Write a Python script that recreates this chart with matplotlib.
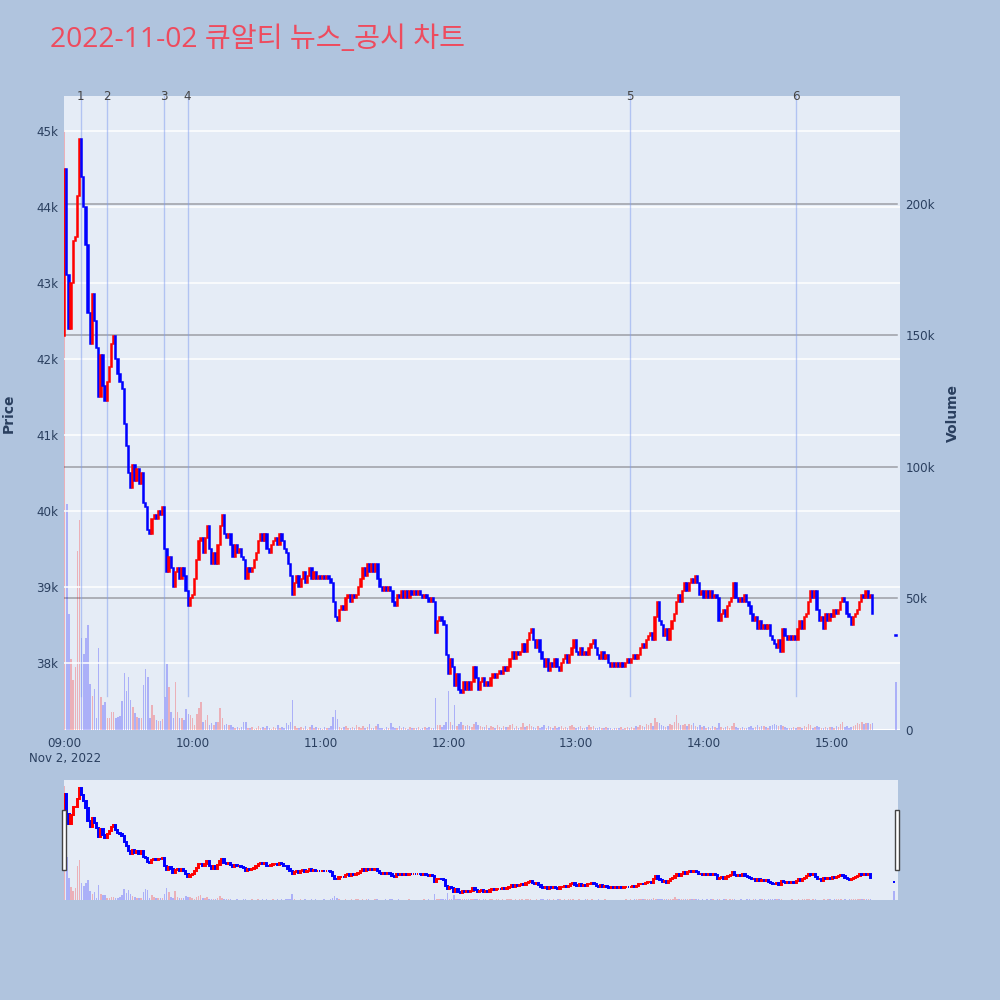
import pandas as pd
import numpy as np
import matplotlib
matplotlib.use('Agg')
import matplotlib.pyplot as plt
import matplotlib.transforms as mtransforms
import matplotlib.patches as mpatches

plt.rcParams['font.family'] = ['DejaVu Sans', 'Noto Sans CJK KR']

# 1분봉 종가 (09:00 ~ 15:19)
first_open = 42300
close = [
    44500, 43100, 42400, 43000, 43550, 43600, 44150, 44900, 44400, 44000,
    43500, 42600, 42200, 42850, 42500, 42150, 41500, 42050, 41650, 41450,
    41700, 41900, 42200, 42300, 42000, 41800, 41700, 41600, 41150, 40850,
    40500, 40300, 40600, 40400, 40550, 40350, 40500, 40100, 40050, 39750,
    39700, 39900, 39950, 39900, 40000, 39950, 40050, 39500, 39200, 39400,
    39250, 39000, 39200, 39250, 39100, 39250, 39150, 38950, 38750, 38850,
    38900, 39100, 39350, 39600, 39650, 39450, 39650, 39800, 39500, 39300,
    39450, 39300, 39550, 39800, 39950, 39700, 39650, 39700, 39550, 39400,
    39550, 39450, 39500, 39400, 39350, 39100, 39250, 39200, 39250, 39350,
    39450, 39600, 39700, 39600, 39700, 39500, 39450, 39550, 39600, 39650,
    39550, 39700, 39600, 39500, 39450, 39300, 39150, 38900, 39050, 39150,
    39000, 39100, 39200, 39050, 39150, 39250, 39100, 39200, 39100, 39150,
    39100, 39150, 39100, 39150, 39100, 39050, 38800, 38600, 38550, 38700,
    38750, 38700, 38850, 38900, 38800, 38900, 38850, 38900, 39000, 39100,
    39250, 39150, 39300, 39200, 39300, 39200, 39300, 39100, 39000, 38950,
    39000, 38950, 39000, 38950, 38800, 38750, 38900, 38850, 38950, 38850,
    38950, 38850, 38950, 38900, 38950, 38900, 38950, 38900, 38850, 38900,
    38850, 38800, 38850, 38800, 38400, 38550, 38600, 38550, 38500, 38100,
    37850, 38050, 37950, 37700, 37850, 37650, 37600, 37750, 37650, 37750,
    37650, 37750, 37950, 37800, 37650, 37750, 37800, 37700, 37750, 37700,
    37800, 37850, 37800, 37850, 37900, 37850, 37950, 37900, 37950, 38050,
    38150, 38050, 38150, 38100, 38150, 38250, 38150, 38300, 38400, 38450,
    38300, 38200, 38300, 38150, 38050, 37950, 38050, 37900, 38000, 37950,
    38050, 37950, 37900, 38000, 38050, 38100, 38000, 38100, 38200, 38300,
    38150, 38100, 38200, 38100, 38150, 38100, 38200, 38250, 38300, 38200,
    38100, 38050, 38150, 38050, 38100, 38000, 37950, 38000, 37950, 38000,
    37950, 38000, 37950, 38000, 38050, 38000, 38050, 38100, 38050, 38100,
    38200, 38250, 38200, 38300, 38350, 38400, 38300, 38600, 38800, 38550,
    38500, 38350, 38450, 38300, 38450, 38550, 38650, 38800, 38900, 38800,
    38950, 39050, 38950, 39050, 39100, 39050, 39150, 39050, 38900, 38950,
    38850, 38950, 38850, 38950, 38850, 38900, 38850, 38550, 38650, 38700,
    38600, 38750, 38800, 38850, 39050, 38850, 38800, 38850, 38800, 38900,
    38800, 38750, 38650, 38550, 38600, 38450, 38550, 38450, 38500, 38450,
    38500, 38350, 38300, 38250, 38200, 38300, 38150, 38450, 38350, 38300,
    38350, 38300, 38350, 38300, 38450, 38550, 38450, 38600, 38650, 38800,
    38950, 38850, 38950, 38700, 38550, 38600, 38450, 38650, 38550, 38650,
    38600, 38700, 38650, 38700, 38800, 38850, 38800, 38650, 38600, 38500,
    38600, 38650, 38700, 38800, 38900, 38850, 38950, 38850, 38900, 38650,
]
volume = [
    228000, 86000, 44000, 27000, 19000, 24000, 68000, 80000, 35000, 29000,
    35000, 40000, 17500, 13000, 15600, 4400, 31000, 12700, 9500, 10800,
    4400, 4500, 7000, 7000, 4400, 5000, 5500, 11000, 21600, 15000,
    20000, 11400, 8600, 6300, 5000, 4400, 4400, 17000, 23000, 20000,
    4400, 9500, 5700, 3800, 3400, 3400, 4000, 12700, 25000, 16500,
    6700, 4400, 18400, 6700, 4600, 4400, 3800, 8000, 6000, 5700,
    4400, 2000, 6000, 8300, 10500, 3200, 3800, 5700, 2000, 2500,
    2000, 3000, 3200, 8300, 4400, 2000, 2300, 1800, 2000, 1000,
    600, 1300, 600, 1000, 3000, 3000, 600, 900, 1200, 500,
    800, 1500, 700, 1100, 600, 1400, 900, 500, 1200, 800,
    2000, 700, 1300, 900, 2500, 1800, 3000, 11400, 1500, 900,
    600, 1200, 800, 1600, 500, 1000, 2000, 700, 1200, 600,
    900, 500, 1300, 800, 700, 1500, 5000, 7600, 4000, 1200,
    600, 1000, 1500, 800, 600, 1300, 900, 2000, 1100, 700,
    1600, 900, 1200, 2400, 800, 600, 1500, 2200, 900, 700,
    500, 1100, 800, 2500, 1300, 700, 900, 1400, 600, 1000,
    800, 500, 1200, 700, 900, 600, 1000, 500, 800, 1300,
    700, 1100, 600, 900, 12000, 2000, 1800, 1200, 2000, 3000,
    15000, 3000, 2000, 9500, 1500, 2200, 3000, 1800, 1400, 2000,
    1600, 1200, 2200, 3000, 1800, 1500, 1000, 1300, 2000, 900,
    1500, 1100, 800, 1900, 1300, 700, 1600, 1000, 1200, 1800,
    2200, 900, 1400, 700, 1200, 2500, 1000, 1600, 2200, 1400,
    1000, 800, 1700, 900, 1300, 1800, 700, 1500, 1100, 900,
    1400, 800, 1200, 1700, 600, 1100, 900, 1500, 2000, 1300,
    800, 1000, 1500, 700, 900, 1300, 1800, 1000, 1600, 900,
    700, 1200, 800, 600, 1100, 900, 700, 500, 800, 600,
    700, 1000, 500, 800, 1200, 600, 1100, 900, 1500, 1300,
    2000, 1600, 1200, 2200, 1800, 2500, 1500, 4400, 3000, 2500,
    1800, 1500, 1200, 1600, 2200, 2000, 3000, 5700, 2500, 1800,
    2000, 2300, 1600, 2200, 1800, 2500, 1500, 1200, 1900, 1000,
    1400, 800, 1200, 900, 1500, 1100, 800, 2500, 1300, 900,
    1200, 1500, 800, 1600, 2500, 1300, 900, 700, 1200, 600,
    800, 1100, 1400, 900, 1300, 1800, 1000, 1400, 1600, 1200,
    800, 1600, 2000, 2200, 1800, 1400, 2000, 1600, 1000, 800,
    600, 900, 1200, 700, 1000, 1300, 900, 1500, 1100, 2200,
    1800, 900, 1200, 1600, 1000, 700, 900, 1200, 800, 1100,
    1300, 800, 1500, 1200, 2200, 3000, 1000, 1400, 900, 1300,
    1600, 2000, 2500, 2200, 3000, 2400, 2800, 2600, 2200, 2800,
]
# 15:30 종가 단일가
auction_time = '2022-11-02 15:30'
auction_price = 38350
auction_volume = 18300

# 뉴스/공시 시각
news_times = ['2022-11-02 09:07:30', '2022-11-02 09:19:40', '2022-11-02 09:46:40',
              '2022-11-02 09:57:40', '2022-11-02 13:25:05', '2022-11-02 14:43:05']
news_labels = ['1', '2', '3', '4', '5', '6']

# ---- 데이터 정리
t0 = pd.Timestamp('2022-11-02 09:00')
times = pd.date_range(t0, periods=len(close), freq='min').append(pd.DatetimeIndex([auction_time]))
x = np.asarray((times - t0).total_seconds() / 60.0)
c = np.array(close + [auction_price], dtype=float)
o = np.array([first_open] + close[:-1] + [auction_price], dtype=float)
v = np.array(volume + [auction_volume], dtype=float)
up = c > o
colors = np.where(up, '#FF0000', '#0000FF')
news_x = [(pd.Timestamp(t) - t0).total_seconds() / 60.0 for t in news_times]

BG = '#B0C4DE'
PLOT_BG = '#E5ECF6'
TICK_C = '#2A3F5F'
xlim = (-0.3, 391.9)
plim = (37118, 45460)
vlim = (0, 241000)


def draw_candles(ax, lw):
    bottom = np.minimum(o, c)
    height = np.maximum(np.abs(c - o), 20)
    ax.bar(x, height, bottom=bottom, width=0.6, color=colors, edgecolor=colors,
           linewidth=lw, zorder=3)


fig = plt.figure(figsize=(10, 10), dpi=100, facecolor=BG)

# 메인 차트
ax_p = fig.add_axes([0.064, 0.270, 0.836, 0.634])
ax_v = ax_p.twinx()
ax_p.set_zorder(ax_v.get_zorder() + 1)
ax_p.patch.set_visible(False)
ax_v.patch.set_visible(True)
ax_v.set_facecolor(PLOT_BG)

ax_v.bar(x, v, width=0.7, color=colors, alpha=0.25, linewidth=0)
ax_v.set_ylim(*vlim)
ax_v.set_yticks([0, 50000, 100000, 150000, 200000])
ax_v.set_yticklabels(['0', '50k', '100k', '150k', '200k'])
for yv in [50000, 100000, 150000, 200000]:
    ax_v.plot([xlim[0], 390.5], [yv, yv], color='#9C9FA6', lw=1.1, zorder=0.5)
ax_v.axhline(0, color='white', lw=1.5, zorder=0.5)

for yp in range(38000, 46000, 1000):
    ax_p.axhline(yp, color='white', lw=1.1, zorder=1)
draw_candles(ax_p, 1.1)
ax_p.set_ylim(*plim)
ax_p.set_xlim(*xlim)
ax_v.set_xlim(*xlim)
ax_p.set_yticks(range(38000, 46000, 1000))
ax_p.set_yticklabels([f'{p // 1000}k' for p in range(38000, 46000, 1000)])

xt = [0, 60, 120, 180, 240, 300, 360]
ax_p.set_xticks(xt)
ax_p.set_xticklabels(['09:00\nNov 2, 2022', '10:00', '11:00', '12:00', '13:00', '14:00', '15:00'])

# 뉴스 세로선
low_min = np.minimum(o, c).min()
for nx, lab in zip(news_x, news_labels):
    ax_p.plot([nx, nx], [low_min - 40, plim[1]], color='#7F9CF0', alpha=0.5, lw=1, zorder=2)
    ax_p.text(nx, 1.0, lab, transform=mtransforms.blended_transform_factory(ax_p.transData, ax_p.transAxes),
              ha='center', va='center', fontsize=8.6, color='#444444', zorder=5)

for a in (ax_p, ax_v):
    for s in a.spines.values():
        s.set_visible(False)
    a.tick_params(length=0, labelsize=8.6, labelcolor=TICK_C)
ax_p.tick_params(axis='y', pad=4)
ax_p.tick_params(axis='x', pad=5)
ax_v.tick_params(axis='y', pad=4)

# 레인지 슬라이더
rs_v = fig.add_axes([0.064, 0.100, 0.834, 0.120])
rs_p = rs_v.twinx()
rs_p.set_zorder(rs_v.get_zorder() + 1)
rs_p.patch.set_visible(False)
rs_v.set_facecolor(PLOT_BG)
rs_v.bar(x, v, width=0.7, color=colors, alpha=0.25, linewidth=0)
rs_v.set_ylim(*vlim)
draw_candles(rs_p, 1.4)
rs_p.set_ylim(*plim)
for a in (rs_v, rs_p):
    a.set_xlim(*xlim)
    a.set_xticks([])
    a.set_yticks([])
    for s in a.spines.values():
        s.set_visible(False)

for hx in (0.0615, 0.8945):
    fig.patches.append(mpatches.Rectangle((hx, 0.130), 0.004, 0.060, transform=fig.transFigure,
                                          facecolor='white', edgecolor='#444444', lw=1))

fig.text(0.05, 0.960, '2022-11-02 큐알티 뉴스_공시 차트', fontsize=20.3, color='#EE4B5E',
         ha='left', va='center', family=['Open Sans', 'Noto Sans CJK KR'])
fig.text(0.009, 0.587, 'Price', rotation=90, fontsize=10, fontweight='bold', color=TICK_C,
         ha='center', va='center')
fig.text(0.953, 0.587, 'Volume', rotation=90, fontsize=10, fontweight='bold', color=TICK_C,
         ha='center', va='center')

fig.savefig('out.png', dpi=100, facecolor=BG)
